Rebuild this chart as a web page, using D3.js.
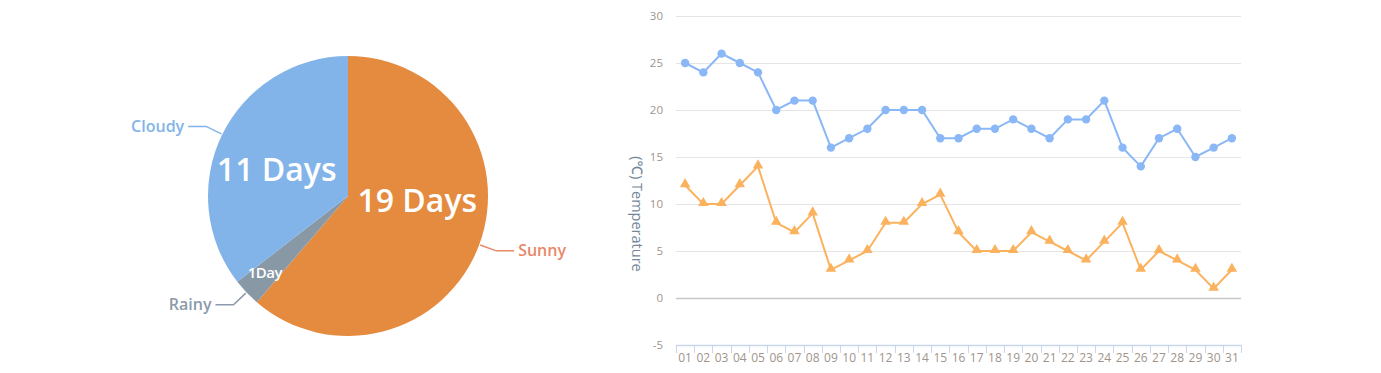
<!DOCTYPE html>
<html>
<head>
<meta charset="utf-8">
<script src="https://cdn.jsdelivr.net/npm/d3@7"></script>
<style>
  body { margin: 0; background: #fff; }
  svg { display: block; font-family: "Open Sans", "Noto Sans", sans-serif; }
</style>
</head>
<body>
<svg id="chart" width="1381" height="373"></svg>
<script>
// weather of the month
var weatherNames = ["Sunny", "Rainy", "Cloudy"];
var weatherDays = [19, 1, 11];
var weatherLabels = ["19 Days", "1Day", "11 Days"];
var weatherColors = ["#e58b3f", "#8898a5", "#82b4e9"];
var weatherTextColors = ["#e8886a", "#8c9aab", "#82b4e9"];

// daily temperatures
var days = ["01","02","03","04","05","06","07","08","09","10","11","12","13","14","15","16",
            "17","18","19","20","21","22","23","24","25","26","27","28","29","30","31"];
var highTemps = [25,24,26,25,24,20,21,21,16,17,18,20,20,20,17,17,18,18,19,18,17,19,19,21,16,14,17,18,15,16,17];
var lowTemps = [12,10,10,12,14,8,7,9,3,4,5,8,8,10,11,7,5,5,5,7,6,5,4,6,8,3,5,4,3,1,3];
var yTicks = [-5, 0, 5, 10, 15, 20, 25, 30];

var svg = d3.select("#chart");

// ---------------- PIE ----------------
var cx = 348, cy = 196, radius = 140;
var pie = d3.pie().sort(null).value(function(d) { return d; });
var arcs = pie(weatherDays);
var arc = d3.arc().innerRadius(0).outerRadius(radius);

var pieG = svg.append("g").attr("transform", "translate(" + cx + "," + cy + ")");

pieG.selectAll("path.slice")
    .data(arcs)
    .enter()
    .append("path")
    .attr("class", "slice")
    .attr("d", arc)
    .attr("fill", function(d, i) { return weatherColors[i]; });

// inner labels (the tiny slice gets pushed further out)
var innerR = [0.52, 0.8, 0.52];
var innerSize = [32, 15, 32];
var innerShift = [[1, -20], [-2, 0], [-6, 6]];
pieG.selectAll("text.inner")
    .data(arcs)
    .enter()
    .append("text")
    .attr("class", "inner")
    .attr("text-anchor", "middle")
    .attr("dy", "0.35em")
    .attr("fill", "#fff")
    .style("font-size", function(d, i) { return innerSize[i] + "px"; })
    .style("font-weight", "600")
    .style("letter-spacing", function(d, i) { return i == 1 ? "-0.5px" : "0px"; })
    .attr("x", function(d, i) {
        var a = (d.startAngle + d.endAngle) / 2;
        return Math.sin(a) * radius * innerR[i] + innerShift[i][0];
    })
    .attr("y", function(d, i) {
        var a = (d.startAngle + d.endAngle) / 2;
        return -Math.cos(a) * radius * innerR[i] + innerShift[i][1];
    })
    .text(function(d, i) { return weatherLabels[i]; });

// outer labels with leader lines
arcs.forEach(function(d, i) {
    var a = (d.startAngle + d.endAngle) / 2;
    var sx = Math.sin(a), sy = -Math.cos(a);
    var p1 = [sx * (radius + 1), sy * (radius + 1)];
    var p2 = [sx * (radius + 18), sy * (radius + 18)];
    var dir = sx < 0 ? -1 : 1;
    var p3 = [p2[0] + dir * 18, p2[1]];
    pieG.append("polyline")
        .attr("points", [p1, p2, p3].join(" "))
        .attr("fill", "none")
        .attr("stroke", weatherTextColors[i])
        .attr("stroke-width", 1.5);
    pieG.append("text")
        .attr("x", p3[0] + dir * 4)
        .attr("y", p3[1])
        .attr("dy", "0.35em")
        .attr("text-anchor", dir < 0 ? "end" : "start")
        .attr("fill", weatherTextColors[i])
        .style("font-size", "16px")
        .style("font-weight", "600")
        .text(weatherNames[i]);
});

// ---------------- LINE CHART ----------------
var plotLeft = 676, plotRight = 1241, plotTop = 16, plotBottom = 345;

var x = d3.scalePoint().domain(days).range([plotLeft, plotRight]).padding(0.5);
var xBand = d3.scaleBand().domain(days).range([plotLeft, plotRight]);
var y = d3.scaleLinear().domain([-5, 30]).range([plotBottom, plotTop]);

// grid lines
svg.append("g")
    .selectAll("line")
    .data(yTicks.filter(function(t) { return t > -5; }))
    .enter()
    .append("line")
    .attr("x1", plotLeft)
    .attr("x2", plotRight)
    .attr("y1", function(d) { return Math.round(y(d)) + 0.5; })
    .attr("y2", function(d) { return Math.round(y(d)) + 0.5; })
    .attr("stroke", function(d) { return d == 0 ? "#c8c8c8" : "#e5e5e5"; })
    .attr("stroke-width", function(d) { return d == 0 ? 1.5 : 1; });

// y tick labels
svg.append("g")
    .selectAll("text")
    .data(yTicks)
    .enter()
    .append("text")
    .attr("x", 663)
    .attr("y", function(d) { return y(d); })
    .attr("dy", "0.35em")
    .attr("text-anchor", "end")
    .attr("fill", "#a0948c")
    .style("font-size", "11.5px")
    .text(function(d) { return d; });

// y axis title
svg.append("text")
    .attr("transform", "translate(632,214) rotate(90)")
    .attr("text-anchor", "middle")
    .attr("fill", "#74879a")
    .style("font-size", "14.5px")
    .style("font-weight", "500")
    .text("(℃) Temperature");

// x axis: line, ticks between categories, labels
var xAxis = d3.axisBottom(xBand).tickSize(0).tickPadding(8);
var xg = svg.append("g")
    .attr("transform", "translate(0," + plotBottom + ")")
    .call(xAxis);
xg.select(".domain").attr("stroke", "#c9d6ea").attr("stroke-width", 1.5);
xg.selectAll("text")
    .attr("fill", "#a0948c")
    .style("font-size", "12px")
    .style("font-family", "\"Open Sans\", sans-serif");

svg.append("g")
    .selectAll("line")
    .data(days.concat(["end"]))
    .enter()
    .append("line")
    .attr("x1", function(d, i) { return Math.round(plotLeft + i * xBand.step()) + 0.5; })
    .attr("x2", function(d, i) { return Math.round(plotLeft + i * xBand.step()) + 0.5; })
    .attr("y1", plotBottom)
    .attr("y2", plotBottom + 8)
    .attr("stroke", "#c9d6ea")
    .attr("stroke-width", 1);

// lines
var highColor = "#8ab7f5", lowColor = "#fbb25e";
var line = d3.line()
    .x(function(d, i) { return x(days[i]); })
    .y(function(d) { return y(d); });

svg.append("path")
    .datum(highTemps)
    .attr("d", line)
    .attr("fill", "none")
    .attr("stroke", highColor)
    .attr("stroke-width", 2);

svg.append("path")
    .datum(lowTemps)
    .attr("d", line)
    .attr("fill", "none")
    .attr("stroke", lowColor)
    .attr("stroke-width", 2);

svg.append("g")
    .selectAll("circle")
    .data(highTemps)
    .enter()
    .append("circle")
    .attr("cx", function(d, i) { return x(days[i]); })
    .attr("cy", function(d) { return y(d); })
    .attr("r", 4.2)
    .attr("fill", highColor);

var tri = d3.symbol().type(d3.symbolTriangle).size(48);
svg.append("g")
    .selectAll("path")
    .data(lowTemps)
    .enter()
    .append("path")
    .attr("d", tri)
    .attr("transform", function(d, i) { return "translate(" + x(days[i]) + "," + (y(d) - 1) + ")"; })
    .attr("fill", lowColor);
</script>
</body>
</html>
